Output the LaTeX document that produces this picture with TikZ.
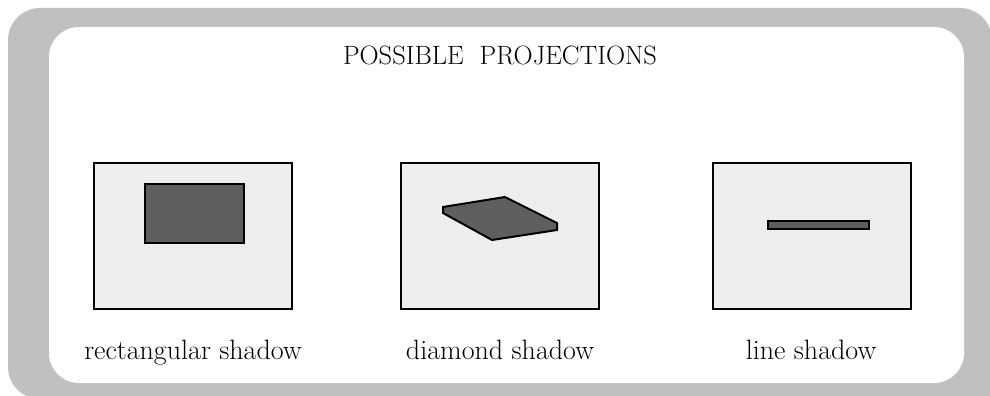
\documentclass[tikz,border=0pt]{standalone}
\usepackage{tikz}
\definecolor{frameGray}{RGB}{192,192,192}
\definecolor{boxFill}{RGB}{238,238,238}
\definecolor{shadowFill}{RGB}{94,94,94}
\begin{document}
\begin{tikzpicture}[x=1pt,y=-1pt,
  panel/.style={draw=black,line width=2pt,fill=boxFill,minimum width=198pt,minimum height=146pt,inner sep=0pt,outer sep=0pt},
  shade/.style={draw=black,line width=2pt,fill=shadowFill,line join=miter},
  label/.style={font=\fontsize{28}{32}\selectfont,anchor=base,inner sep=0pt},
  heading/.style={font=\fontsize{26.5}{31}\selectfont,anchor=base,inner sep=0pt}]
\useasboundingbox (0,0) rectangle (990,396);
\begin{scope}
\clip (0,0) rectangle (990,396);
\fill[frameGray,rounded corners=32pt] (8,8) rectangle (992,399);
\fill[frameGray] (900,300) rectangle (990,396);
\fill[white,rounded corners=30pt] (49,27) rectangle (964,383);
\end{scope}
\node[heading] (title) at (500,65) {POSSIBLE~~PROJECTIONS};
\node[panel] (p1) at (193,236) {};
\node[panel] (p2) at (500,236) {};
\node[panel] (p3) at (811.5,236) {};
\draw[shade] (145,184) rectangle (244,243);
\draw[shade] (443,207) -- (505,197) -- (557,223) -- (557,230) -- (492,240) -- (443,213) -- cycle;
\draw[shade] (768,221) rectangle (869,229);
\node[label] (l1) at (193,359) {rectangular shadow};
\node[label] (l2) at (500,359) {diamond shadow};
\node[label] (l3) at (811,359) {line shadow};
\end{tikzpicture}
\end{document}
